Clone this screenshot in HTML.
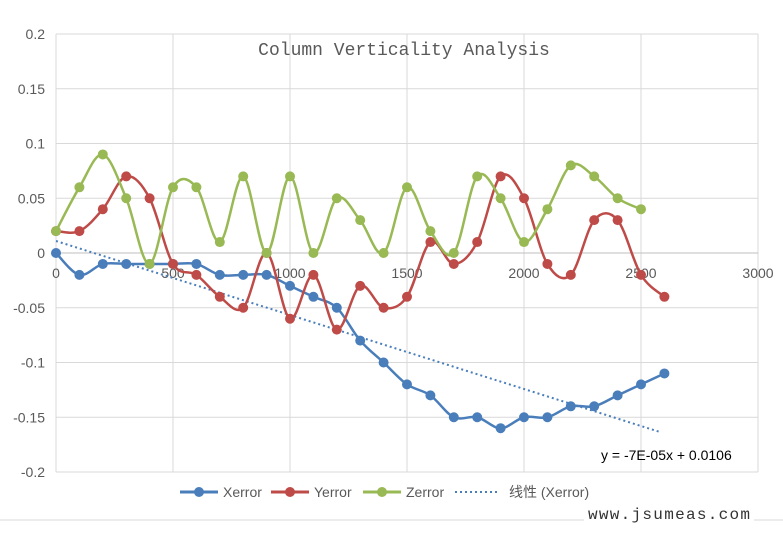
<!DOCTYPE html>
<html><head><meta charset="utf-8"><style>
body{margin:0;background:#fff;width:783px;height:532px;overflow:hidden}
svg text{font-family:"Liberation Sans","Noto Sans CJK SC",sans-serif}
</style></head><body>
<svg id="s" width="783" height="532" xmlns="http://www.w3.org/2000/svg">
<rect x="0" y="0" width="783" height="532" fill="#fff"/>
<line x1="0" y1="520" x2="783" y2="520" stroke="#d9d9d9"/>
<g id="grid"></g>
<text x="404" y="55" text-anchor="middle" font-size="18" fill="#595959" style="font-family:'Liberation Mono',monospace">Column Verticality Analysis</text>
<g id="series"></g>
<text x="601" y="460" font-size="14" fill="#000">y = -7E-05x + 0.0106</text>
<g font-size="14" fill="#595959">
<line x1="180" y1="492" x2="218" y2="492" stroke="#4a7ebb" stroke-width="3"/><circle cx="199" cy="492" r="5" fill="#4a7ebb"/>
<text x="223" y="497">Xerror</text>
<line x1="271" y1="492" x2="309" y2="492" stroke="#be4b48" stroke-width="3"/><circle cx="290" cy="492" r="5" fill="#be4b48"/>
<text x="314" y="497">Yerror</text>
<line x1="363" y1="492" x2="401" y2="492" stroke="#98b954" stroke-width="3"/><circle cx="382" cy="492" r="5" fill="#98b954"/>
<text x="406" y="497">Zerror</text>
<line x1="455" y1="492" x2="500" y2="492" stroke="#4a7ebb" stroke-width="2" stroke-dasharray="2,3"/>
<text x="509" y="497">线性 (Xerror)</text>
</g>
<rect x="584" y="503" width="170" height="20" fill="#fff"/>
<text x="588" y="519" font-size="16" fill="#333" textLength="162" style="font-family:'Liberation Mono',monospace">www.jsumeas.com</text>
</svg>
<script>
var X=function(v){return 56+v*0.234},Y=function(v){return 253-v*1095};
var g='';
for(var i=-4;i<=4;i++){var y=Y(i*0.05);g+='<line x1="56" x2="758" y1="'+y+'" y2="'+y+'" stroke="#d9d9d9"/>';
var l=(i*0.05).toFixed(2).replace(/0$/,'').replace(/\.0?$/,'');if(i==0)l='0';
g+='<text x="45" y="'+(y+5)+'" text-anchor="end" font-size="14" fill="#595959">'+l+'</text>';}
for(var k=0;k<=6;k++){var x=X(k*500);g+='<line y1="34" y2="472" x1="'+x+'" x2="'+x+'" stroke="#d9d9d9"/>';
g+='<text x="'+x+'" y="278" text-anchor="middle" font-size="14" fill="#595959">'+(k*500)+'</text>';}
g+='<line x1="56" x2="758" y1="253" y2="253" stroke="#bfbfbf"/>';
document.getElementById('grid').innerHTML=g;
var D=[
['#4a7ebb',[0,-0.02,-0.01,-0.01,-0.01,-0.01,-0.01,-0.02,-0.02,-0.02,-0.03,-0.04,-0.05,-0.08,-0.10,-0.12,-0.13,-0.15,-0.15,-0.16,-0.15,-0.15,-0.14,-0.14,-0.13,-0.12,-0.11]],
['#be4b48',[0.02,0.02,0.04,0.07,0.05,-0.01,-0.02,-0.04,-0.05,0,-0.06,-0.02,-0.07,-0.03,-0.05,-0.04,0.01,-0.01,0.01,0.07,0.05,-0.01,-0.02,0.03,0.03,-0.02,-0.04]],
['#98b954',[0.02,0.06,0.09,0.05,-0.01,0.06,0.06,0.01,0.07,0,0.07,0,0.05,0.03,0,0.06,0.02,0,0.07,0.05,0.01,0.04,0.08,0.07,0.05,0.04]]];
var s='';
D.forEach(function(d){var p=d[1].map(function(v,i){return [X(i*100),Y(v)]});
var path='M'+p[0][0]+','+p[0][1];
for(var i=0;i<p.length-1;i++){var p0=p[i-1]||p[i],p1=p[i],p2=p[i+1],p3=p[i+2]||p2,t=6;
path+=' C'+(p1[0]+(p2[0]-p0[0])/t)+','+(p1[1]+(p2[1]-p0[1])/t)+' '+(p2[0]-(p3[0]-p1[0])/t)+','+(p2[1]-(p3[1]-p1[1])/t)+' '+p2[0]+','+p2[1];}
s+='<path d="'+path+'" fill="none" stroke="'+d[0]+'" stroke-width="2.5"/>';
p.forEach(function(q){s+='<circle cx="'+q[0]+'" cy="'+q[1]+'" r="5" fill="'+d[0]+'"/>';});
if(d[0]=='#4a7ebb')s+='<line x1="56" y1="241" x2="660" y2="432" stroke="#4a7ebb" stroke-width="2" stroke-dasharray="2,3"/>';
});
document.getElementById('series').innerHTML=s;
</script>
</body></html>
